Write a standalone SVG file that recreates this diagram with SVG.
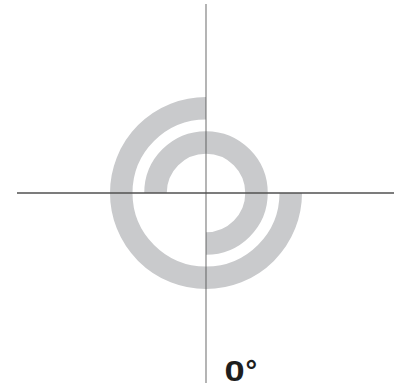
<svg xmlns="http://www.w3.org/2000/svg" width="395" height="392" viewBox="0 0 395 392">
<style>
.band{fill:none;stroke:#c9cacc;stroke-width:22.5;stroke-linecap:butt}
.axis{fill:none;stroke-linecap:butt}
.lbl{font-family:'Liberation Sans', Arial, sans-serif;font-weight:bold;font-size:29px;fill:#1e1e1e}
</style>
<rect width="395" height="392" fill="#ffffff"/>
<g id="spiral">
<path class="band" d="M206,108.25 A84.75,84.75 0 1 0 290.75,193"/>
<path class="band" d="M155.5,193 A50.5,50.5 0 1 1 206,243.5"/>
</g>
<g id="axes">
<line class="axis" x1="17" y1="193" x2="394" y2="193" stroke="#505050" stroke-width="1.3"/>
<line class="axis" x1="206" y1="4" x2="206" y2="383" stroke="#4a4a4a" stroke-opacity="0.52" stroke-width="1.6"/>
</g>
<g id="label">
<text class="lbl" transform="translate(224.5,381) scale(1.25,1)" x="0" y="0">0</text>
<text class="lbl" x="245.5" y="381">°</text>
</g>
</svg>
